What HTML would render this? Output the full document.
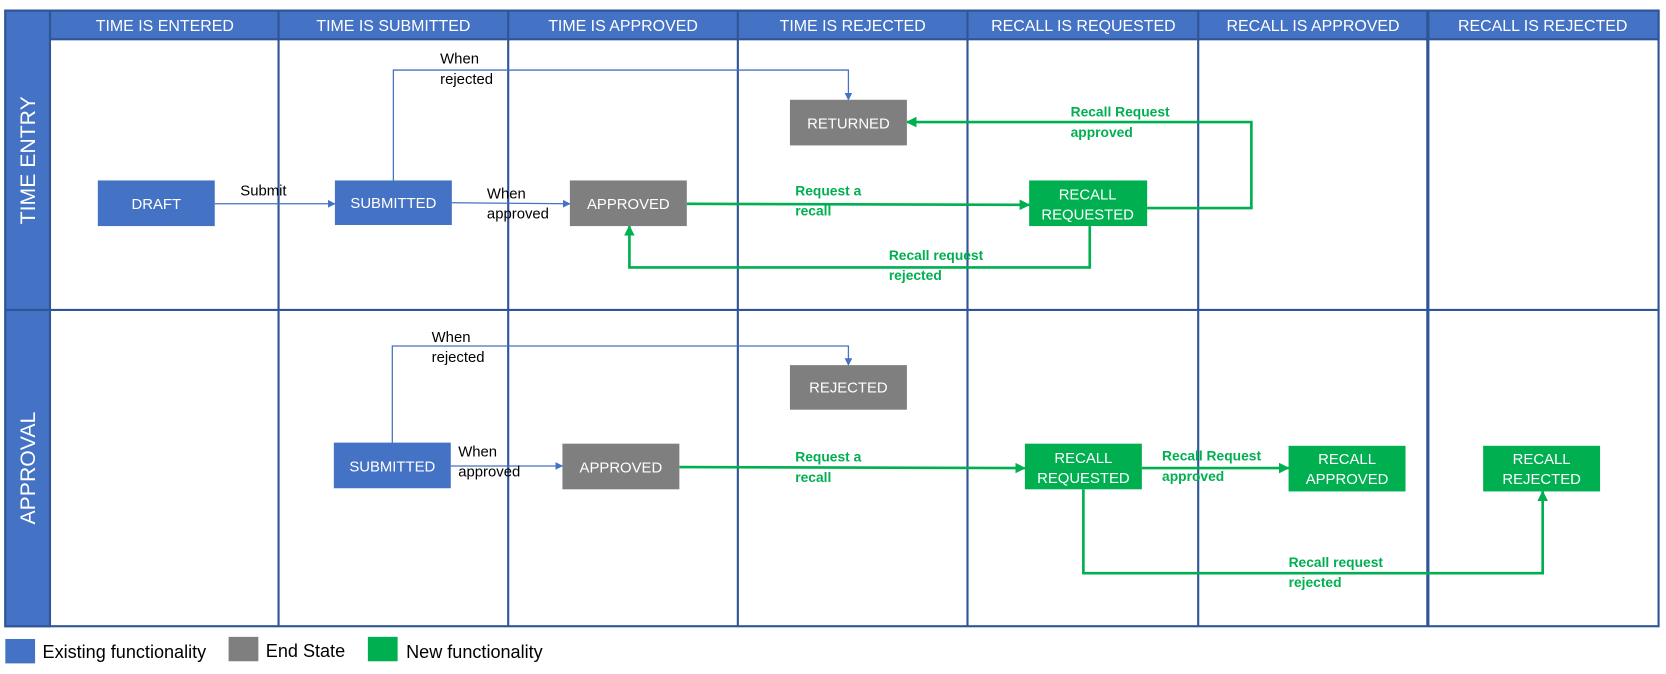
<!DOCTYPE html>
<html><head><meta charset="utf-8"><style>
html,body{margin:0;padding:0;background:#fff;}
svg{display:block;}
text{font-family:"Liberation Sans",sans-serif;}
</style></head><body>
<svg width="1666" height="674" viewBox="0 0 1567 635" preserveAspectRatio="none" xmlns="http://www.w3.org/2000/svg">
<defs>
<marker id="ab" viewBox="0 0 10 10" refX="9" refY="5" markerWidth="6" markerHeight="6" orient="auto"><path d="M0,0L10,5L0,10z" fill="#4472c4"/></marker>
<marker id="ag" viewBox="0 0 10 10" refX="9" refY="5" markerWidth="4" markerHeight="4" orient="auto"><path d="M0,0L10,5L0,10z" fill="#00b050"/></marker>
</defs>
<rect x="5" y="10" width="1555" height="580" fill="#fff" stroke="#2f5597" stroke-width="2"/>
<rect x="47" y="10" width="1513" height="27" fill="#4472c4" stroke="#2f5597" stroke-width="2"/>
<rect x="5" y="10" width="42" height="580" fill="#4472c4" stroke="#2f5597" stroke-width="2"/>
<line x1="5" y1="292" x2="1560" y2="292" stroke="#2f5597" stroke-width="2"/>
<g stroke="#2f5597" stroke-width="2">
<line x1="262" y1="10" x2="262" y2="590"/><line x1="478" y1="10" x2="478" y2="590"/>
<line x1="694" y1="10" x2="694" y2="590"/><line x1="910" y1="10" x2="910" y2="590"/>
<line x1="1127" y1="10" x2="1127" y2="590"/><line x1="1343" y1="10" x2="1343" y2="590" stroke-width="3"/>
</g>
<g fill="#fff" font-size="15" text-anchor="middle">
<text x="155" y="29">TIME IS ENTERED</text><text x="370" y="29">TIME IS SUBMITTED</text>
<text x="586" y="29">TIME IS APPROVED</text><text x="802" y="29">TIME IS REJECTED</text>
<text x="1019" y="29">RECALL IS REQUESTED</text><text x="1235" y="29">RECALL IS APPROVED</text>
<text x="1451" y="29">RECALL IS REJECTED</text>
<text transform="translate(33,151) rotate(-90)" font-size="20">TIME ENTRY</text>
<text transform="translate(33,441) rotate(-90)" font-size="20">APPROVAL</text>
</g>
<g fill="none" stroke="#4472c4" stroke-width="1.2">
<line x1="202" y1="192" x2="315" y2="192" marker-end="url(#ab)"/>
<polyline points="370,170 370,66 798,66 798,94" marker-end="url(#ab)"/>
<line x1="425" y1="191" x2="536" y2="192" marker-end="url(#ab)"/>
<polyline points="369,417 369,326 798,326 798,344" marker-end="url(#ab)"/>
<line x1="424" y1="439" x2="529" y2="439" marker-end="url(#ab)"/>
</g>
<g fill="none" stroke="#00b050" stroke-width="2.5">
<line x1="646" y1="192" x2="968" y2="193" marker-end="url(#ag)"/>
<polyline points="1079,196 1177,196 1177,115 853,115" marker-end="url(#ag)"/>
<polyline points="1025,213 1025,252 592,252 592,213" marker-end="url(#ag)"/>
<line x1="639" y1="440" x2="964" y2="441" marker-end="url(#ag)"/>
<line x1="1074" y1="441" x2="1212" y2="441" marker-end="url(#ag)"/>
<polyline points="1019,461 1019,540 1451,540 1451,463" marker-end="url(#ag)"/>
</g>
<g font-size="14" fill="#fff" text-anchor="middle">
<rect x="92" y="170" width="110" height="43" fill="#4472c4"/><text x="147" y="197">DRAFT</text>
<rect x="315" y="170" width="110" height="42" fill="#4472c4"/><text x="370" y="196">SUBMITTED</text>
<rect x="536" y="170" width="110" height="43" fill="#7f7f7f"/><text x="591" y="197">APPROVED</text>
<rect x="743" y="94" width="110" height="43" fill="#7f7f7f"/><text x="798" y="121">RETURNED</text>
<rect x="968" y="170" width="111" height="43" fill="#00b050"/><text x="1023" y="188">RECALL</text><text x="1023" y="207">REQUESTED</text>
<rect x="743" y="344" width="110" height="42" fill="#7f7f7f"/><text x="798" y="370">REJECTED</text>
<rect x="314" y="417" width="110" height="43" fill="#4472c4"/><text x="369" y="444">SUBMITTED</text>
<rect x="529" y="418" width="110" height="43" fill="#7f7f7f"/><text x="584" y="445">APPROVED</text>
<rect x="964" y="418" width="110" height="43" fill="#00b050"/><text x="1019" y="436">RECALL</text><text x="1019" y="455">REQUESTED</text>
<rect x="1212" y="420" width="110" height="43" fill="#00b050"/><text x="1267" y="437">RECALL</text><text x="1267" y="456">APPROVED</text>
<rect x="1395" y="420" width="110" height="43" fill="#00b050"/><text x="1450" y="437">RECALL</text><text x="1450" y="456">REJECTED</text>
</g>
<g font-size="14" fill="#000">
<text x="226" y="184">Submit</text>
<text x="414" y="60">When</text><text x="414" y="79">rejected</text>
<text x="458" y="187">When</text><text x="458" y="206">approved</text>
<text x="406" y="322">When</text><text x="406" y="341">rejected</text>
<text x="431" y="430">When</text><text x="431" y="449">approved</text>
</g>
<g font-size="13" fill="#00b050" font-weight="bold">
<text x="748" y="184">Request a</text><text x="748" y="203">recall</text>
<text x="1007" y="110">Recall Request</text><text x="1007" y="129">approved</text>
<text x="836" y="245">Recall request</text><text x="836" y="264">rejected</text>
<text x="748" y="435">Request a</text><text x="748" y="454">recall</text>
<text x="1093" y="434">Recall Request</text><text x="1093" y="453">approved</text>
<text x="1212" y="534">Recall request</text><text x="1212" y="553">rejected</text>
</g>
<rect x="5" y="602" width="28" height="23" fill="#4472c4"/>
<rect x="215" y="600" width="28" height="23" fill="#7f7f7f"/>
<rect x="346" y="600" width="28" height="23" fill="#00b050"/>
<g font-size="17" fill="#000">
<text x="40" y="620">Existing functionality</text>
<text x="250" y="619">End State</text>
<text x="382" y="620">New functionality</text>
</g>
</svg>
</body></html>
